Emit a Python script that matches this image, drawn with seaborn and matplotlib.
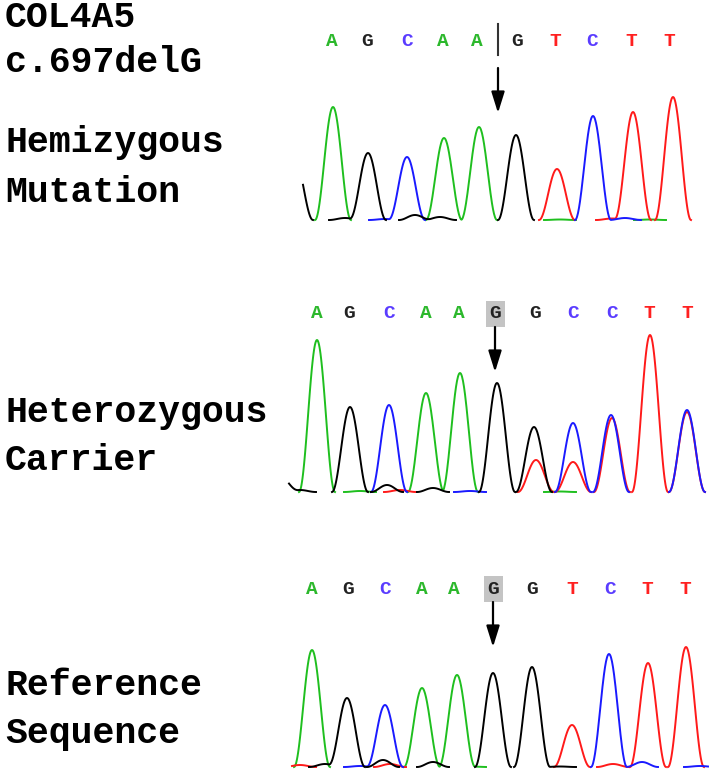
import numpy as np
import pandas as pd
import seaborn as sns
import matplotlib.pyplot as plt
from matplotlib.patches import Rectangle

# base calls printed above each trace (x = scan position)
calls_mut = list("AGCAAGTCTT")
calls_het = list("AGCAAGGCCTT")
calls_ref = list("AGCAAGGTCTT")
call_x_mut = [332, 367, 407, 443, 477, 517, 555, 592, 631, 669]
call_x_het = [317, 349, 389, 426, 459, 495, 535, 573, 612, 649, 687]
call_x_ref = [312, 348, 385, 422, 454, 493, 532, 572, 610, 647, 685]

# main peaks: scan position, base, height
peak_x_mut = [295, 333, 368, 407, 444, 479, 516, 557, 593, 633, 673]
peak_b_mut = ['G', 'A', 'G', 'C', 'A', 'A', 'G', 'T', 'C', 'T', 'T']
peak_h_mut = [60, 113, 67, 63, 82, 93, 85, 51, 104, 108, 123]

peak_x_het = [280, 317, 350, 389, 426, 460, 497, 534, 536, 573, 573, 611, 612, 650, 687, 687]
peak_b_het = ['G', 'A', 'G', 'C', 'A', 'A', 'G', 'G', 'T', 'C', 'T', 'C', 'T', 'T', 'C', 'T']
peak_h_het = [16, 152, 85, 87, 99, 119, 109, 65, 32, 69, 30, 77, 74, 157, 82, 80]

peak_x_ref = [312, 347, 385, 422, 457, 493, 532, 572, 609, 648, 686]
peak_b_ref = list("AGCAAGGTCTT")
peak_h_ref = [117, 69, 62, 79, 92, 94, 100, 42, 113, 104, 120]

# small baseline bumps
noise_x_mut = [345, 385, 415, 440, 560, 612, 625, 650]
noise_b_mut = ['G', 'C', 'G', 'G', 'A', 'T', 'C', 'A']
noise_h_mut = [2, 1, 5, 3, 0.5, 1.5, 2, 0.5]

noise_x_het = [300, 360, 387, 400, 433, 470, 560]
noise_b_het = ['G', 'A', 'G', 'T', 'G', 'C', 'A']
noise_h_het = [2, 1, 7, 2, 4, 1, 0.5]

noise_x_ref = [300, 325, 360, 383, 390, 433, 470, 560, 613, 642, 700]
noise_b_ref = ['T', 'G', 'C', 'G', 'T', 'G', 'A', 'G', 'T', 'C', 'C']
noise_h_ref = [2, 3, 1, 7, 3, 5, 0.5, 0.5, 3, 5, 1]

# scan range of each trace, and the mutation site
scan_mut = (303, 692)
scan_het = (289, 705)
scan_ref = (292, 708)
site_mut = 498
site_het = 495
site_ref = 493

base_colors = {'A': '#1fbf1f', 'C': '#1a1aff', 'G': '#000000', 'T': '#ff1a1a'}
call_colors = {'A': '#2cb82c', 'C': '#5a3cff', 'G': '#222222', 'T': '#ff2020'}

W, H = 709, 770
PEAK_HALF = 18
NOISE_HALF = 16


def bump(x, p, h, half):
    d = np.abs(x - p)
    return np.where(d < half, h * np.cos(np.pi * d / (2 * half)) ** 2, 0.0)


def make_trace(scan, px, pb, ph, nx, nb, nh):
    x = np.arange(scan[0], scan[1] + 0.5, 0.5)
    frames = []
    for b in 'ATCG':
        y = np.zeros_like(x)
        for p, bb, h in zip(px, pb, ph):
            if bb == b:
                y += bump(x, p, h, PEAK_HALF)
        for p, bb, h in zip(nx, nb, nh):
            if bb == b:
                y += bump(x, p, h, NOISE_HALF)
        on = y > 0
        # keep one zero sample on each side so the trace lands on the baseline
        on = on | np.roll(on, 1) | np.roll(on, -1)
        seg = np.cumsum(np.r_[True, on[1:] != on[:-1]])
        frames.append(pd.DataFrame({'scan': x[on], 'signal': y[on],
                                    'base': b, 'seg': b + seg[on].astype(str)}))
    return pd.concat(frames, ignore_index=True)


def draw_panel(fig, baseline_px, df, calls, call_x, site, boxed, arrow_top):
    ax = fig.add_axes([280 / W, (H - baseline_px - 4) / H, (W - 280) / W, 210 / H])
    sns.lineplot(data=df, x='scan', y='signal', hue='base', hue_order=['A', 'T', 'C', 'G'],
                 units='seg', palette=base_colors, estimator=None, sort=False,
                 legend=False, linewidth=1.4, ax=ax)
    ax.set_xlim(280, W)
    ax.set_ylim(-4, 206)
    ax.axis('off')

    for c, x in zip(calls, call_x):
        if boxed and x == call_x[5]:
            ax.add_patch(Rectangle((x - 9.5, 165), 19, 26, fc='#c4c4c4', ec='none'))
        ax.text(x, 178, c, color=call_colors[c], ha='center', va='center',
                fontsize=14, fontweight='bold', family='Liberation Mono')
    if not boxed:
        ax.plot([site, site], [165, 196], color='#333333', lw=1.5)
    ax.annotate('', xy=(site, arrow_top - 45), xytext=(site, arrow_top),
                arrowprops=dict(arrowstyle='-|>,head_length=0.8,head_width=0.25',
                                color='black', lw=1.6, mutation_scale=16,
                                shrinkA=0, shrinkB=0))
    return ax


fig = plt.figure(figsize=(W / 100, H / 100), dpi=100)

draw_panel(fig, 220, make_trace(scan_mut, peak_x_mut, peak_b_mut, peak_h_mut,
                                noise_x_mut, noise_b_mut, noise_h_mut),
           calls_mut, call_x_mut, site_mut, False, 152)
draw_panel(fig, 492, make_trace(scan_het, peak_x_het, peak_b_het, peak_h_het,
                                noise_x_het, noise_b_het, noise_h_het),
           calls_het, call_x_het, site_het, True, 165)
draw_panel(fig, 767, make_trace(scan_ref, peak_x_ref, peak_b_ref, peak_h_ref,
                                noise_x_ref, noise_b_ref, noise_h_ref),
           calls_ref, call_x_ref, site_ref, True, 165)

labels = ["COL4A5", "c.697delG", "Hemizygous", "Mutation",
          "Heterozygous", "Carrier", "Reference", "Sequence"]
label_base_px = [27, 72, 152, 202, 422, 470, 695, 743]
for t, yb in zip(labels, label_base_px):
    fig.text(5 / W, 1 - yb / H, t, fontsize=26.3, fontweight='bold',
             family='Liberation Mono', va='baseline', ha='left')

fig.savefig('out.png', dpi=100)
